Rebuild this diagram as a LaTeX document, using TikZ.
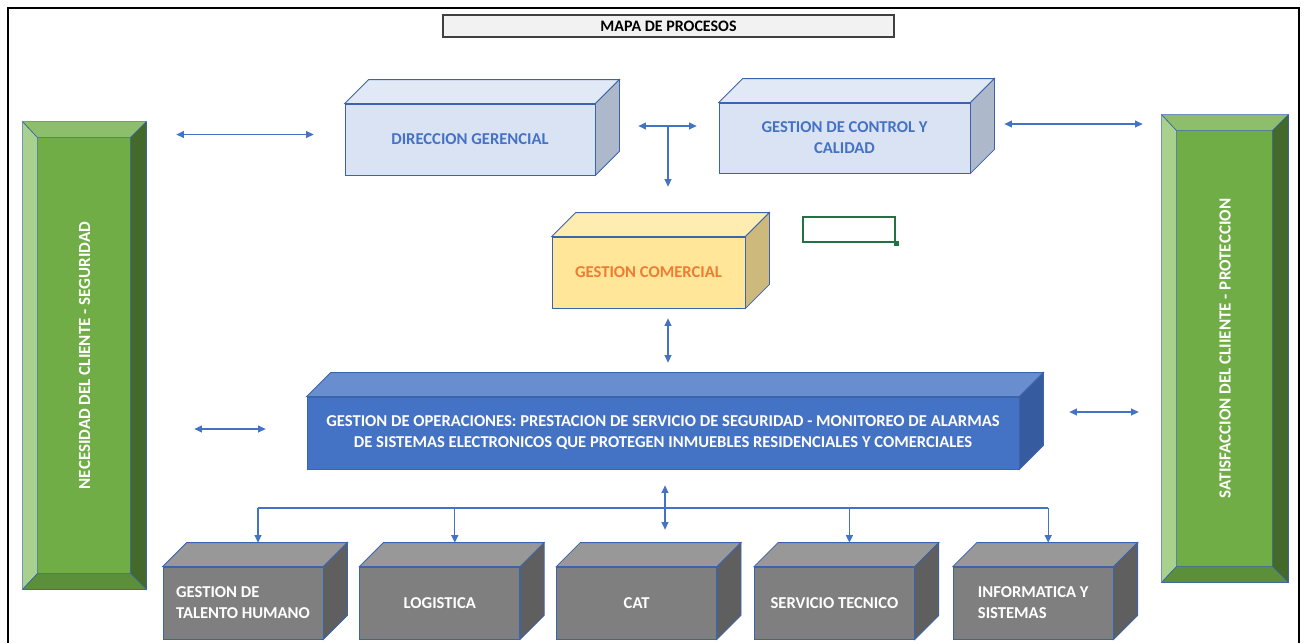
\documentclass[tikz,border=0pt]{standalone}
\usepackage{fontspec}
\setmainfont{Carlito}
\usepackage{tikz}
\usetikzlibrary{arrows.meta,positioning,calc}
\definecolor{arrblue}{HTML}{4472C4}
\definecolor{edgeblue}{HTML}{3B64AD}
\definecolor{lbFront}{HTML}{DAE3F3}
\definecolor{lbTop}{HTML}{E2E9F6}
\definecolor{lbSide}{HTML}{ADB9CA}
\definecolor{ylFront}{HTML}{FFE699}
\definecolor{ylTop}{HTML}{FFECB0}
\definecolor{ylSide}{HTML}{CDB97C}
\definecolor{opFront}{HTML}{4472C4}
\definecolor{opTop}{HTML}{698ED0}
\definecolor{opSide}{HTML}{365C9F}
\definecolor{grFront}{HTML}{7F7F7F}
\definecolor{grTop}{HTML}{989898}
\definecolor{grSide}{HTML}{5F5F5F}
\definecolor{gMid}{HTML}{70AD47}
\definecolor{gLeft}{HTML}{A9D18E}
\definecolor{gTop}{HTML}{8DBE6B}
\definecolor{gRight}{HTML}{436A2A}
\definecolor{gBottom}{HTML}{5B8F3A}
\definecolor{selgreen}{HTML}{217346}
\definecolor{orangetxt}{HTML}{ED7D31}

\begin{document}
\begin{tikzpicture}[x=1pt,y=-1pt,
  cube/.style={draw=edgeblue,line width=0.8pt,fill=#1,minimum height=71pt,align=center,inner sep=2pt,
    font=\fontsize{16.6}{21}\selectfont\bfseries},
  gbox/.style={cube=grFront,text=white,minimum width=160pt,minimum height=72pt},
  bar/.style={draw=edgeblue,line width=0.8pt,fill=gMid,minimum width=#1,minimum height=467pt,inner sep=0pt,
    text=white,font=\fontsize{17}{21}\selectfont\bfseries},
  face/.style={draw=edgeblue,line width=0.8pt},
  bevel/.style={draw=edgeblue,line width=0.6pt},
  arr/.style={{Triangle[length=7.5pt,width=7pt]}-{Triangle[length=7.5pt,width=7pt]},draw=arrblue,fill=arrblue,line width=1.1pt},
  arrd/.style={-{Triangle[length=7.5pt,width=7pt]},draw=arrblue,fill=arrblue,line width=1.1pt}]
\useasboundingbox (0,0) rectangle (1306,643);
\draw[line width=2pt] (7.5,643) -- (7.5,7.5) -- (1299,7.5) -- (1299,643);
\node[draw=black!75,line width=1.2pt,fill=black!5,minimum width=451pt,minimum height=22pt,inner sep=0pt,
  font=\fontsize{16}{18}\selectfont\bfseries] (title) at (668.5,26) {MAPA DE PROCESOS};

% client side bars
\node[bar=123pt] (nec) at (84.5,355.5) {\rotatebox{90}{NECESIDAD DEL CLIENTE - SEGURIDAD}};
\node[bar=126pt] (sat) at (1225,348.5) {\rotatebox{90}{SATISFACCION DEL CLIIENTE - PROTECCION}};
\foreach \n in {nec,sat}{
  \coordinate (a) at ($(\n.north west)+(15,16)$);
  \coordinate (b) at ($(\n.north east)+(-16,16)$);
  \coordinate (c) at ($(\n.south east)+(-16,-16)$);
  \coordinate (d) at ($(\n.south west)+(15,-16)$);
  \filldraw[bevel,fill=gLeft] (\n.north west) -- (a) -- (d) -- (\n.south west) -- cycle;
  \filldraw[bevel,fill=gTop] (\n.north west) -- (\n.north east) -- (b) -- (a) -- cycle;
  \filldraw[bevel,fill=gRight] (\n.north east) -- (\n.south east) -- (c) -- (b) -- cycle;
  \filldraw[bevel,fill=gBottom] (\n.south west) -- (d) -- (c) -- (\n.south east) -- cycle;
}

% strategic processes
\node[cube=lbFront,text=arrblue,minimum width=250pt] (dg) at (470,139.5) {DIRECCION GERENCIAL};
\node[cube=lbFront,text=arrblue,minimum width=251pt,minimum height=70pt] (gc) at (844.5,138) {GESTION DE CONTROL Y\\CALIDAD};
\node[cube=ylFront,text=orangetxt,minimum width=193pt] (gcom) at (648.5,272.5) {GESTION COMERCIAL};
\node[draw=selgreen,line width=2pt,minimum width=92pt,minimum height=25pt,inner sep=0pt] (sel) at (849,229.5) {};
\node[fill=selgreen,minimum size=5pt,inner sep=0pt] (selh) at (sel.south east) {};

% core process
\node[cube=opFront,text=white,minimum width=712pt,minimum height=72pt] (op) at (663,433)
  {GESTION DE OPERACIONES: PRESTACION DE SERVICIO DE SEGURIDAD - MONITOREO DE ALARMAS\\
   DE SISTEMAS ELECTRONICOS QUE PROTEGEN INMUEBLES RESIDENCIALES Y COMERCIALES};

% support processes
\node[gbox,align=left] (th) at (243,603) {GESTION DE\\TALENTO HUMANO};
\node[gbox,right=36pt of th] (lo) {LOGISTICA};
\node[gbox,right=36pt of lo] (cat) {CAT};
\node[gbox,right=37pt of cat] (st) {SERVICIO TECNICO};
\node[gbox,align=left,right=38pt of st] (inf) {INFORMATICA Y\\SISTEMAS};

\foreach \n/\t/\s in {dg/lbTop/lbSide,gc/lbTop/lbSide,gcom/ylTop/ylSide,op/opTop/opSide,
  th/grTop/grSide,lo/grTop/grSide,cat/grTop/grSide,st/grTop/grSide,inf/grTop/grSide}{
  \filldraw[face,fill=\t] (\n.north west) -- ++(24,-24) -- ($(\n.north east)+(24,-24)$) -- (\n.north east) -- cycle;
  \filldraw[face,fill=\s] (\n.north east) -- ++(24,-24) -- ($(\n.south east)+(24,-24)$) -- (\n.south east) -- cycle;
}

% connectors
\draw[arr,shorten <=30pt,shorten >=31pt] ([yshift=5pt]dg.west -| nec.east) -- ([yshift=5pt]dg.west);
\coordinate (tj) at (668,126);
\draw[arr] ([xshift=43pt]dg.east |- tj) -- ([xshift=-22pt]gc.west |- tj);
\draw[arrd,shorten >=50pt] (tj) -- (tj |- gcom.north);
\draw[arr,shorten <=34pt,shorten >=19pt] ([yshift=14pt]gc.east) -- ([yshift=14pt]gc.east -| sat.west);
\draw[arr,shorten <=10pt,shorten >=34pt] ([xshift=19.5pt]gcom.south) -- ([xshift=19.5pt]gcom.south |- op.north);
\draw[arr,shorten <=48pt,shorten >=41pt] ([yshift=4pt]op.west -| nec.east) -- ([yshift=4pt]op.west);
\draw[arr,shorten <=50pt,shorten >=23pt] ([yshift=21pt]op.east) -- ([yshift=21pt]op.east -| sat.west);
\coordinate (bus) at (665,508);
\draw[arrblue,line width=1.1pt] ([xshift=15pt]th.north |- bus) -- ([xshift=15pt]inf.north |- bus);
\foreach \n in {th,lo,st,inf}
  \draw[arrd,shorten >=24pt] ([xshift=15pt]\n.north |- bus) -- ([xshift=15pt]\n.north);
\draw[arr,shorten <=16pt,shorten >=37pt] ([xshift=2pt]op.south) -- ([xshift=2pt]op.south |- cat.north);
\end{tikzpicture}
\end{document}
